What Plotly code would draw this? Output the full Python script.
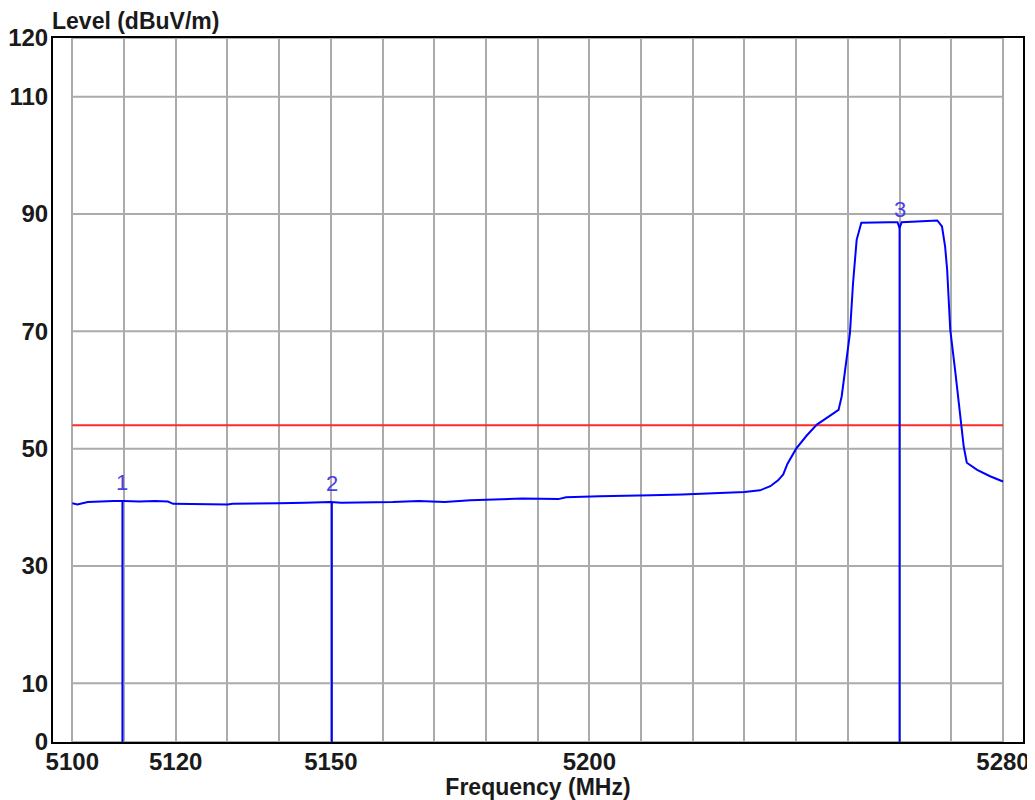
import plotly.graph_objects as go

# spectrum trace (MHz, dBuV/m)
freq = [5100, 5101, 5103, 5105, 5108, 5110, 5113, 5116, 5118.5, 5119.5,
        5125, 5130, 5131, 5135, 5140, 5145, 5148, 5150, 5152, 5157,
        5162, 5167, 5170, 5172, 5177, 5182, 5187, 5194, 5195.5, 5202,
        5207, 5212, 5218, 5225, 5230, 5233, 5235, 5236.5, 5237.5, 5238.3,
        5240, 5242, 5244, 5246, 5248.2, 5248.8, 5249.4, 5250.4, 5251, 5251.7,
        5252.6, 5255, 5258, 5259.6, 5260, 5260.4, 5262, 5264, 5266, 5267.3,
        5268.2, 5268.8, 5269.2, 5269.8, 5270.8, 5271.7, 5272.4, 5273, 5275, 5277.5,
        5280]
level = [40.7, 40.5, 40.9, 41.0, 41.1, 41.1, 41.0, 41.1, 41.0, 40.6,
         40.5, 40.5, 40.6, 40.6, 40.7, 40.8, 40.9, 40.9, 40.8, 40.85,
         40.9, 41.1, 41.0, 40.9, 41.2, 41.3, 41.5, 41.4, 41.7, 41.9,
         41.95, 42.05, 42.2, 42.45, 42.6, 42.9, 43.6, 44.6, 45.6, 47.4,
         50.0, 52.2, 54.1, 55.3, 56.6, 58.9, 62.9, 69.7, 78.2, 85.6,
         88.5, 88.6, 88.6, 88.6, 87.6, 88.6, 88.7, 88.8, 88.9, 88.9,
         87.9, 84.5, 80.5, 70.3, 62.9, 56.1, 50.4, 47.6, 46.4, 45.3,
         44.4]

limit = 54
marker_names = ["1", "2", "3"]
marker_freq = [5109.7, 5150.2, 5260]
marker_level = [41.1, 40.9, 87.6]

x_ticks = [5100, 5120, 5150, 5200, 5280]
y_ticks = [0, 10, 30, 50, 70, 90, 110, 120]

grid = "#ababab"
font = "Liberation Sans, Arial, sans-serif"
txt = "#1a1a1a"

fig = go.Figure()

# horizontal grid only inside the 5100-5280 box
for yv in y_ticks:
    fig.add_shape(type="line", xref="x", yref="y", x0=freq[0], x1=freq[-1],
                  y0=yv, y1=yv, line=dict(color=grid, width=2), layer="below")

fig.add_trace(go.Scatter(x=[freq[0], freq[-1]], y=[limit, limit], mode="lines",
                         line=dict(color="#ff2a2a", width=2), hoverinfo="skip"))

fig.add_trace(go.Scatter(x=freq, y=level, mode="lines",
                         line=dict(color="#0000ff", width=2)))

for name, mf, ml in zip(marker_names, marker_freq, marker_level):
    fig.add_trace(go.Scatter(x=[mf, mf], y=[0, ml], mode="lines",
                             line=dict(color="#0000ff", width=2)))
    fig.add_annotation(x=mf, y=ml, xref="x", yref="y", text=name, showarrow=False,
                       yanchor="bottom", yshift=4,
                       font=dict(family=font, size=22, color="#4a3fe6"))

# page body has an 8px margin, so the figure is 8px smaller each way
fig.update_layout(
    width=1027,
    height=792,
    showlegend=False,
    plot_bgcolor="white",
    paper_bgcolor="white",
    margin=dict(l=45, r=12, t=30, b=58),
    font=dict(family=font, size=23, color=txt),
)

fig.update_xaxes(
    range=[5096.27, 5283.87],
    automargin=False,
    tickvals=x_ticks,
    ticks="",
    ticklabelstandoff=-3,
    tickfont=dict(family=font, size=24, color=txt, weight="bold"),
    showgrid=True, gridcolor=grid, gridwidth=2,
    minor=dict(dtick=10, tick0=5100, showgrid=True, gridcolor=grid, gridwidth=2),
    showline=True, linecolor="black", linewidth=2, mirror=True,
    zeroline=False,
    title=dict(text="<b>Frequency (MHz)</b>", standoff=4,
               font=dict(family=font, size=23, color=txt)),
)

fig.update_yaxes(
    range=[0, 120],
    automargin=False,
    tickvals=y_ticks,
    ticks="",
    ticklabelstandoff=-2,
    tickfont=dict(family=font, size=24, color=txt, weight="bold"),
    showgrid=False,
    showline=True, linecolor="black", linewidth=2, mirror=True,
    zeroline=False,
)

fig.add_annotation(text="<b>Level (dBuV/m)</b>", xref="paper", yref="paper",
                   x=0, y=1, xanchor="left", yanchor="bottom", yshift=2,
                   xshift=-3, showarrow=False,
                   font=dict(family=font, size=23, color=txt))

fig.write_html("out.html")
